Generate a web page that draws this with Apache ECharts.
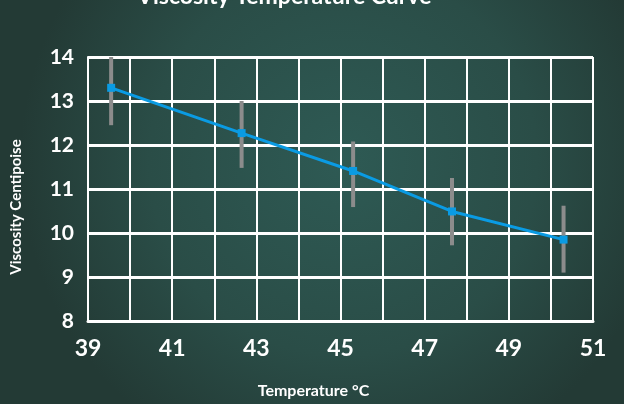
<!DOCTYPE html>
<html><head><meta charset="utf-8">
<script src="https://cdn.jsdelivr.net/npm/echarts@6/dist/echarts.min.js"></script>
<style>html,body{margin:0;padding:0;background:#2a4540}#c{width:624px;height:404px}</style>
</head><body><div id="c"></div>
<script>
const temperatures = [39.55, 42.65, 45.3, 47.65, 50.3];
const viscosity = [13.3, 12.27, 11.41, 10.49, 9.85];
const errorLow = [12.45, 11.48, 10.59, 9.72, 9.10];
const errorHigh = [14.15, 13.0, 12.08, 11.25, 10.62];
const xTickLabels = [39, 41, 43, 45, 47, 49, 51];
const yTickLabels = [8, 9, 10, 11, 12, 13, 14];

const lineData = temperatures.map((t, i) => [t, viscosity[i]]);
const errData = temperatures.map((t, i) => [t, errorLow[i], errorHigh[i]]);

const chart = echarts.init(document.getElementById('c'));
const FONT = 'Lato';
chart.setOption({
  animation: false,
  backgroundColor: {
    type: 'radial', x: 0.55, y: 0.4, r: 0.8,
    colorStops: [
      {offset: 0, color: '#2e5a54'},
      {offset: 0.6, color: '#2a4d47'},
      {offset: 1, color: '#233a35'}
    ]
  },
  title: {
    text: 'Viscosity Temperature Curve',
    left: 137, top: -15, padding: 0,
    textStyle: {color: '#ffffff', fontFamily: FONT, fontWeight: 'bold', fontSize: 23}
  },
  grid: {left: 88, right: 31, top: 57, bottom: 82, containLabel: false},
  xAxis: {
    type: 'value', min: 39, max: 51, interval: 1,
    name: 'Temperature °C', nameLocation: 'middle', nameGap: 62,
    nameTextStyle: {color: '#ffffff', fontFamily: FONT, fontWeight: 'bold', fontSize: 16, padding: [0, 54, 0, 0]},
    axisLine: {show: true, lineStyle: {color: '#ffffff', width: 3}},
    axisTick: {show: false},
    axisLabel: {
      color: '#ffffff', fontFamily: FONT, fontWeight: 'bold', fontSize: 23, margin: 16,
      formatter: v => xTickLabels.includes(v) ? String(v) : ''
    },
    splitLine: {show: true, lineStyle: {color: '#ffffff', width: 2}}
  },
  yAxis: {
    type: 'value', min: 8, max: 14, interval: 1,
    name: 'Viscosity Centipoise', nameLocation: 'middle', nameGap: 64,
    nameTextStyle: {color: '#ffffff', fontFamily: FONT, fontWeight: 'bold', fontSize: 15, padding: [0, 36, 0, 0]},
    axisLine: {show: true, lineStyle: {color: '#ffffff', width: 2}},
    axisTick: {show: false},
    axisLabel: {
      color: '#ffffff', fontFamily: FONT, fontWeight: 'bold', fontSize: 21, margin: 14,
      formatter: v => yTickLabels.includes(v) ? String(v) : ''
    },
    splitLine: {show: true, lineStyle: {color: '#ffffff', width: 3}}
  },
  series: [
    {
      type: 'custom',
      clip: true,
      z: 2,
      data: errData,
      encode: {x: 0, y: [1, 2]},
      renderItem: function (params, api) {
        const x = api.value(0);
        const a = api.coord([x, api.value(1)]);
        const b = api.coord([x, api.value(2)]);
        return {
          type: 'line',
          shape: {x1: a[0], y1: a[1], x2: b[0], y2: b[1]},
          style: {stroke: '#8c8c8c', lineWidth: 4}
        };
      }
    },
    {
      type: 'line',
      z: 3,
      data: lineData,
      symbol: 'rect',
      symbolSize: 8,
      lineStyle: {color: '#0a9be3', width: 3},
      itemStyle: {color: '#0a9be3'}
    }
  ]
});
</script>
</body></html>
